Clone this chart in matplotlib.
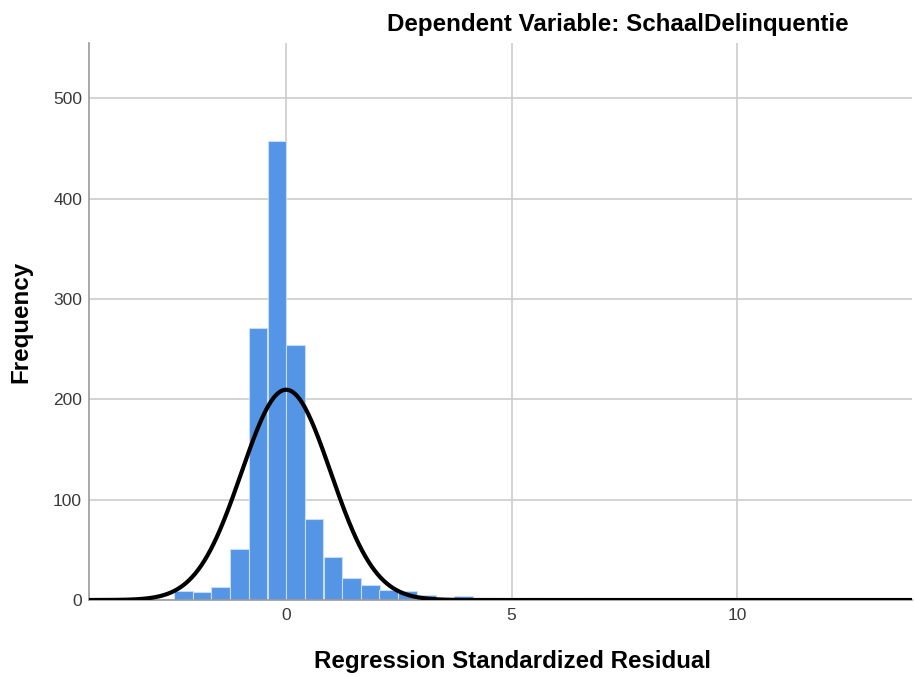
import numpy as np
import matplotlib
matplotlib.use('Agg')
import matplotlib.pyplot as plt

plt.rcParams['font.family'] = ['Liberation Sans', 'DejaVu Sans']

# histogram bins (left edges) and counts
bin_width = 0.414
bin_left = [-2.48, -2.07, -1.66, -1.24, -0.83, -0.41, 0.00, 0.41, 0.83,
            1.24, 1.66, 2.07, 2.48, 2.90, 3.72, 5.38, 6.62]
counts = [9, 8, 13, 51, 271, 457, 254, 81, 43,
          22, 15, 10, 9, 5, 4, 2, 2]

# normal curve parameters
res_mean = 0.0
res_std = 0.99

x_ticks = [0, 5, 10]
y_ticks = [0, 100, 200, 300, 400, 500]

fig = plt.figure(figsize=(9.14, 6.77), dpi=100)
ax = fig.add_axes([0.0974, 0.1137, 0.9006, 0.8228])

ax.bar(bin_left, counts, width=bin_width, align='edge',
       color='#5495e5', edgecolor='#c9dcf5', linewidth=0.8, zorder=2)

xs = np.linspace(-4.37, 13.88, 800)
n_total = sum(counts)
curve = n_total * bin_width * np.exp(-0.5 * ((xs - res_mean) / res_std) ** 2) / (res_std * np.sqrt(2 * np.pi))
ax.plot(xs, curve, color='black', linewidth=3.0, zorder=3, solid_capstyle='butt')

ax.set_xlim(-4.37, 13.88)
ax.set_ylim(0, 555)
ax.set_xticks(x_ticks)
ax.set_yticks(y_ticks)
ax.tick_params(axis='y', length=0, labelsize=12.5, colors='#3a3a3a', pad=5)
ax.tick_params(axis='x', length=0, labelsize=12.5, colors='#3a3a3a', pad=6)
ax.grid(True, color='#cccccc', linewidth=1.2, zorder=0)
ax.set_axisbelow(True)

for s in ['top', 'right']:
    ax.spines[s].set_visible(False)
ax.spines['left'].set_color('#9a9a9a')
ax.spines['left'].set_linewidth(1.2)
ax.spines['bottom'].set_color('#9a9a9a')
ax.spines['bottom'].set_linewidth(1.2)

ax.set_xlabel('Regression Standardized Residual', fontsize=17.4, fontweight='bold', labelpad=19.5)
ax.xaxis.label.set_x(0.5146)
ax.set_ylabel('Frequency', fontsize=17.4, fontweight='bold', labelpad=15)
fig.text(0.6756, 0.9645, 'Dependent Variable: SchaalDelinquentie',
         fontsize=17.4, fontweight='bold', ha='center', va='center')

fig.savefig('out.png', dpi=100)
